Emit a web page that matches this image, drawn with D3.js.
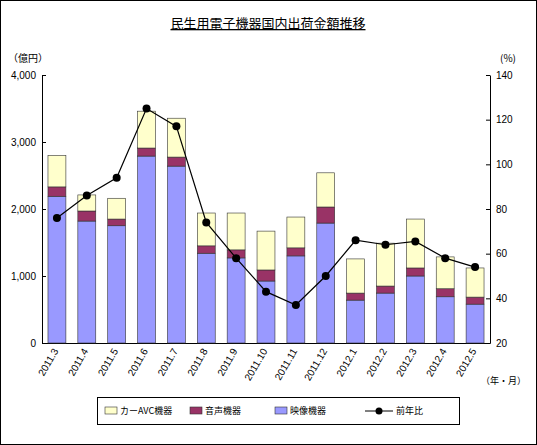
<!DOCTYPE html>
<html><head><meta charset="utf-8">
<script src="https://cdn.jsdelivr.net/npm/d3@7"></script>
<style>body{margin:0;background:#fff}svg{font-family:"Noto Sans CJK JP",sans-serif}</style>
</head><body>
<svg id="c" width="537" height="445"></svg>
<script>
// data
var months = ["2011.3","2011.4","2011.5","2011.6","2011.7","2011.8","2011.9","2011.10","2011.11","2011.12","2012.1","2012.2","2012.3","2012.4","2012.5"];
var video = [2190,1820,1750,2790,2640,1340,1270,925,1300,1790,640,745,1000,690,580];
var audio = [140,150,100,120,135,110,120,165,120,240,105,105,120,120,105];
var car = [470,240,310,550,580,490,550,580,460,510,510,640,730,475,435];
var yoy = [76,86,94,125,117,74,58,43,37,50,66,64,65.5,58,54];
var leftTicks = [0,1000,2000,3000,4000];
var rightTicks = [20,40,60,80,100,120,140];

var svg = d3.select("#c");
svg.append("rect").attr("x",0.5).attr("y",0.5).attr("width",536).attr("height",444).attr("fill","#fff").attr("stroke","#000");

var x = d3.scaleBand().domain(months).range([42,490]).paddingInner(0.4).paddingOuter(0.2);
var y = d3.scaleLinear().domain([0,4000]).range([343,75]);
var y2 = d3.scaleLinear().domain([20,140]).range([343,75]);

svg.append("text").attr("x",268).attr("y",28).attr("text-anchor","middle").attr("font-size",13)
  .attr("text-decoration","underline").text("民生用電子機器国内出荷金額推移");

var fmt = d3.format(",");
svg.append("g").attr("transform","translate(42,0)").call(d3.axisLeft(y).tickValues(leftTicks).tickFormat(fmt).tickSizeInner(-4).tickSizeOuter(0))
  .call(g=>g.selectAll("text").attr("font-size",10).attr("x",-6));
svg.append("g").attr("transform","translate(490,0)").call(d3.axisRight(y2).tickValues(rightTicks).tickSizeInner(-4).tickSizeOuter(0))
  .call(g=>g.selectAll("text").attr("font-size",10).attr("x",6));
svg.append("g").attr("transform","translate(0,343)").call(d3.axisBottom(x).tickSize(0).tickSizeOuter(0))
  .call(g=>g.selectAll("text").attr("font-size",10).attr("text-anchor","end")
    .attr("transform","rotate(-60)").attr("x",-6).attr("y",2).attr("dy","0.35em"));
svg.selectAll(".domain").attr("stroke","#000");

svg.append("text").attr("x",8).attr("y",62).attr("font-size",10).text("（億円）");
svg.append("text").attr("x",500).attr("y",62).attr("font-size",10).text("(%)");
svg.append("text").attr("x",481).attr("y",384).attr("font-size",9).text("（年・月）");

var series = [["video",video,"#9999ff"],["audio",audio,"#993366"],["car",car,"#ffffcc"]];
months.forEach(function(m,i){
  var base = 0;
  series.forEach(function(s){
    var v = s[1][i];
    svg.append("rect").attr("x",x(m)).attr("width",x.bandwidth())
      .attr("y",y(base+v)).attr("height",y(base)-y(base+v))
      .attr("fill",s[2]).attr("stroke","#333").attr("stroke-width",0.6);
    base += v;
  });
});

var line = d3.line().x((d,i)=>x(months[i])+x.bandwidth()/2).y(d=>y2(d));
svg.append("path").attr("d",line(yoy)).attr("fill","none").attr("stroke","#000").attr("stroke-width",1.2);
svg.selectAll("circle.p").data(yoy).enter().append("circle")
  .attr("cx",(d,i)=>x(months[i])+x.bandwidth()/2).attr("cy",d=>y2(d)).attr("r",4).attr("fill","#000");

// legend
var lg = svg.append("g");
lg.append("rect").attr("x",97.5).attr("y",397.5).attr("width",362).attr("height",27).attr("fill","#fff").attr("stroke","#000");
var items = [["カーAVC機器","#ffffcc",105],["音声機器","#993366",190],["映像機器","#9999ff",275]];
items.forEach(function(it){
  lg.append("rect").attr("x",it[2]).attr("y",407).attr("width",12).attr("height",7).attr("fill",it[1]).attr("stroke","#333").attr("stroke-width",0.6);
  lg.append("text").attr("x",it[2]+15).attr("y",414).attr("font-size",9).text(it[0]);
});
lg.append("line").attr("x1",365).attr("x2",393).attr("y1",411).attr("y2",411).attr("stroke","#000");
lg.append("circle").attr("cx",379).attr("cy",411).attr("r",3.5);
lg.append("text").attr("x",396).attr("y",414).attr("font-size",9).text("前年比");
</script>
</body></html>
